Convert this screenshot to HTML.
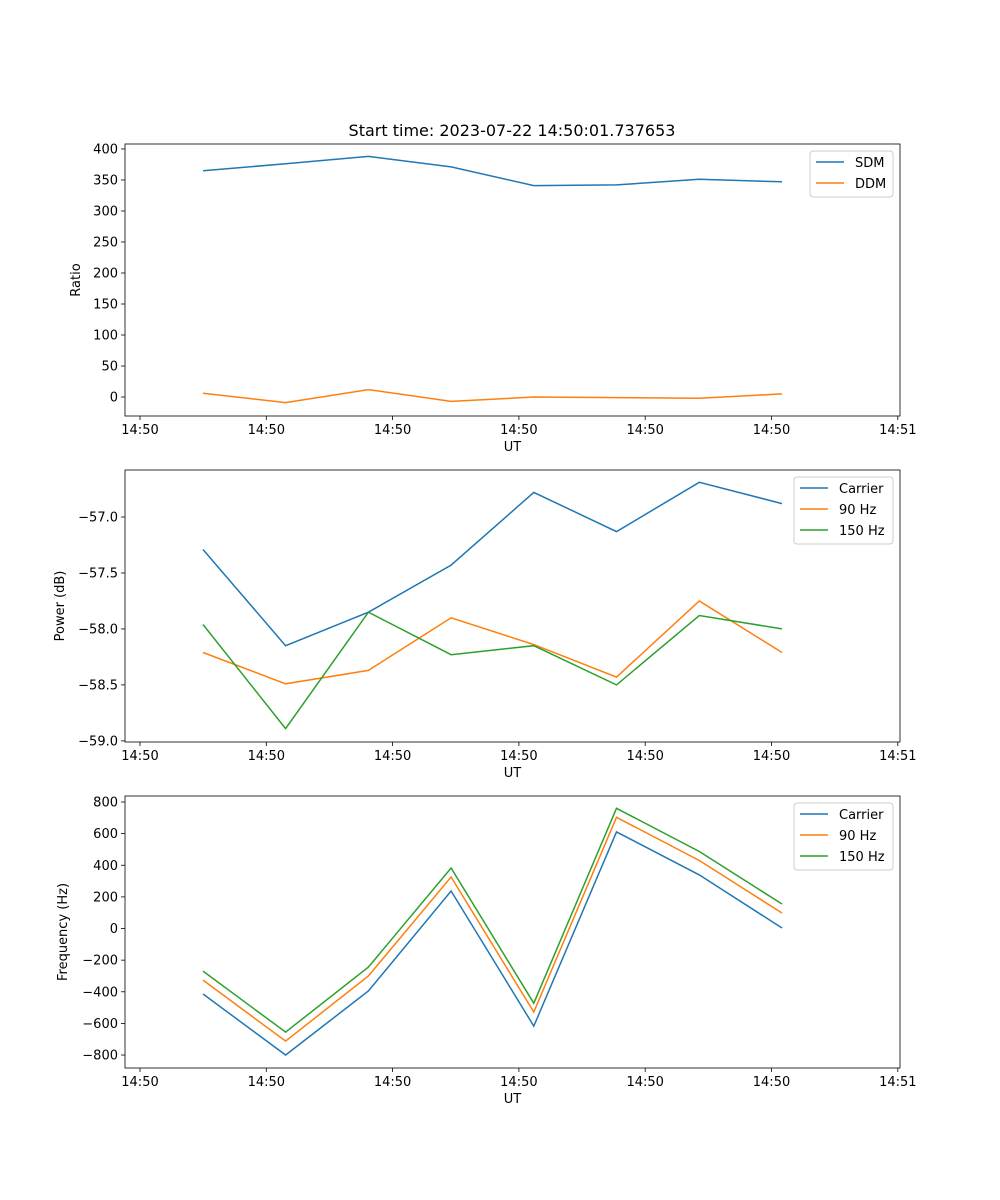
<!DOCTYPE html>
<html><head><meta charset="utf-8"><style>
body{margin:0;background:#fff}
svg{display:block;font-family:"DejaVu Sans","Liberation Sans",sans-serif}
</style></head><body>
<svg id="fig" width="1000" height="1200" viewBox="0 0 1000 1200">
<rect width="1000" height="1200" fill="#fff"/>
<text x="512" y="136" font-size="16" text-anchor="middle">Start time: 2023-07-22 14:50:01.737653</text>
</svg>
<script>
// shared x data (time positions in tick units)
const times = [0.499, 1.153, 1.808, 2.463, 3.118, 3.773, 4.428, 5.083];
const xTickLabels = ["14:50","14:50","14:50","14:50","14:50","14:50","14:51"];
// panel 1
const sdm = [365, 376, 388, 371, 341, 342, 351, 347];
const ddm = [6, -9, 12, -7, 0, -1, -2, 5];
const ratioTicks = [0, 50, 100, 150, 200, 250, 300, 350, 400];
// panel 2
const powCarrier = [-57.29, -58.15, -57.85, -57.43, -56.78, -57.13, -56.69, -56.88];
const pow90 = [-58.21, -58.49, -58.37, -57.90, -58.14, -58.43, -57.75, -58.21];
const pow150 = [-57.96, -58.89, -57.85, -58.23, -58.15, -58.50, -57.88, -58.00];
const powTicks = [-59.0, -58.5, -58.0, -57.5, -57.0];
// panel 3
const freqCarrier = [-414, -800, -395, 237, -617, 611, 339, 3];
const freq90 = [-326, -712, -300, 326, -528, 703, 430, 98];
const freq150 = [-269, -655, -244, 383, -472, 760, 487, 155];
const freqTicks = [-800, -600, -400, -200, 0, 200, 400, 600, 800];

const NS = "http://www.w3.org/2000/svg";
const fig = document.getElementById("fig");
function mk(tag, attrs, parent){const e=document.createElementNS(NS,tag);for(const k in attrs)e.setAttribute(k,attrs[k]);(parent||fig).appendChild(e);return e;}
const C = {blue:"#1f77b4", orange:"#ff7f0e", green:"#2ca02c"};
const L = 125, R = 900;
const xs = v => 140 + v * 126.3;

function panel(name, top, bot, yMin, yMax, ticks, fmt, ylabel, series, legend){
  const g = mk("g", {});
  
  
  const ys = v => bot - (v - yMin) / (yMax - yMin) * (bot - top);
  series.forEach(s=>{
    const pts = times.map((t,i)=>xs(t).toFixed(1)+","+ys(s.vals[i]).toFixed(1)).join(" ");
    const pl = mk("polyline",{points:pts,fill:"none",stroke:s.color,"stroke-width":1.5},g);
    
    
  });
  const fr = mk("rect",{x:L,y:top,width:R-L,height:bot-top,fill:"none",stroke:"#000","stroke-width":0.8},g);
  
  
  xTickLabels.forEach((lab,i)=>{
    const x = xs(i);
    mk("line",{x1:x,x2:x,y1:bot,y2:bot+4,stroke:"#000","stroke-width":0.8},g);
    const t = mk("text",{x:x,y:bot+18,"font-size":13,"text-anchor":"middle"},g);
    t.textContent = lab;
    
    
  });
  const xl = mk("text",{x:(L+R)/2,y:bot+35,"font-size":13,"text-anchor":"middle"},g);
  xl.textContent = "UT";
  
  
  ticks.forEach(v=>{
    const y = ys(v);
    mk("line",{x1:L-4,x2:L,y1:y,y2:y,stroke:"#000","stroke-width":0.8},g);
    const t = mk("text",{x:L-7,y:y+4.5,"font-size":13,"text-anchor":"end"},g);
    t.textContent = fmt(v);
    
    
  });
  const yl = mk("text",{x:0,y:0,"font-size":13,"text-anchor":"middle",transform:`translate(${legend.yl},${(top+bot)/2}) rotate(-90)`},g);
  yl.textContent = ylabel;
  
  
  const lg = mk("g",{},g);
  
  
  mk("rect",{x:legend.x,y:top+7,width:R-7-legend.x,height:series.length*21+4,rx:3,fill:"#fff",stroke:"#ccc","stroke-width":1},lg);
  series.forEach((s,i)=>{
    const y = top+18+i*21;
    mk("line",{x1:legend.x+6,x2:legend.x+34,y1:y,y2:y,stroke:s.color,"stroke-width":1.5},lg);
    const t = mk("text",{x:legend.x+45,y:y+5,"font-size":13},lg);
    t.textContent = s.label;
    
    
  });
}
const minus = s => s.replace("-","\u2212");
panel("ratio-panel",144,416,-30.6,408,ratioTicks,v=>minus(String(v)),"Ratio",
  [{id:"sdm",label:"SDM",vals:sdm,color:C.blue},{id:"ddm",label:"DDM",vals:ddm,color:C.orange}],{x:810,yl:80});
panel("power-panel",470,742,-59.01,-56.58,powTicks,v=>minus(v.toFixed(1)),"Power (dB)",
  [{id:"carrier",label:"Carrier",vals:powCarrier,color:C.blue},{id:"90hz",label:"90 Hz",vals:pow90,color:C.orange},{id:"150hz",label:"150 Hz",vals:pow150,color:C.green}],{x:794,yl:64});
panel("frequency-panel",796,1068,-882,838,freqTicks,v=>minus(String(v)),"Frequency (Hz)",
  [{id:"carrier",label:"Carrier",vals:freqCarrier,color:C.blue},{id:"90hz",label:"90 Hz",vals:freq90,color:C.orange},{id:"150hz",label:"150 Hz",vals:freq150,color:C.green}],{x:794,yl:67});
</script>
</body></html>
